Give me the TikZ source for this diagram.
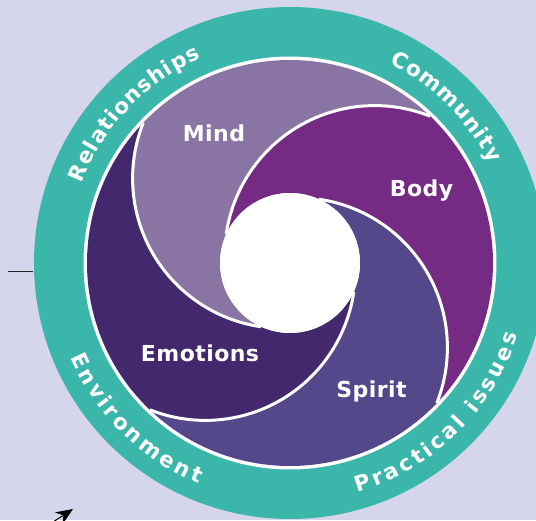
\documentclass[tikz,border=0pt]{standalone}
\usepackage{fontspec}
\usepackage{tikz}
\usetikzlibrary{decorations.text,arrows.meta}

\newfontfamily\labelfont[LetterSpace=2]{DejaVu Sans Bold}
\newfontfamily\ringfont{DejaVu Sans Bold}

\definecolor{bgcol}{HTML}{D5D5EC}
\definecolor{ringcol}{HTML}{3AB6AA}
\definecolor{mindcol}{HTML}{8A74A3}
\definecolor{bodycol}{HTML}{752A84}
\definecolor{spiritcol}{HTML}{54478A}
\definecolor{emocol}{HTML}{43286E}

\tikzset{
	petallabel/.style={text=white, anchor=base, inner sep=0pt, font=\labelfont\fontsize{22}{22}\selectfont},
	ringtext/.style={decorate, decoration={text along path, text color=white, text align=fit to path, text={|\ringfont\fontsize{21.5}{21.5}\selectfont|#1}}}
}

\begin{document}
\begin{tikzpicture}[x=1pt,y=1pt]
			% Draw background
			\fill[bgcol] (0,0) rectangle (536,520);
			\useasboundingbox (0,0) rectangle (536,520);
			\clip (0,0) rectangle (536,520);
			
			% Draw teal ring
			\fill[ringcol] (290,257) circle(256);
			\fill[white] (290,257) circle(206.5);
			
			% Draw petals (between the arm at \a and the arm at \a-90)
			\foreach \a/\col in {95/mindcol, 5/bodycol, -85/spiritcol, -175/emocol}{
				\pgfmathsetmacro\oa{\a-48.7}
				\pgfmathsetmacro\ob{\a+41.3}
				\pgfmathsetmacro\sa{\a+63.3}
				\pgfmathsetmacro\sb{\a+166.8}
				\pgfmathsetmacro\ia{\a+150.7}
				\pgfmathsetmacro\ib{\a+60.7}
				\pgfmathsetmacro\ta{\a+76.8}
				\pgfmathsetmacro\tb{\a-26.7}
				\fill[\col, shift={(290,257)}] (\oa:203) arc(\oa:\ob:203) arc(\sa:\sb:150)
				arc(\ia:\ib:70) arc(\ta:\tb:150) -- cycle;
			}
			
			% Draw white arms
			\foreach \a in {95, 5, -85, -175}{
				\pgfmathsetmacro\sa{\a+63.3}
				\pgfmathsetmacro\sb{\a+166.8}
				\draw[white, line width=3, shift={(290,257)}] ([shift={(\sa:150)}] \a:85) arc(\sa:\sb:150);
			}
			
			% Draw inner circle
			\fill[white] (290,257) circle(70);
			
			% Draw petal labels
			\node[petallabel] (mind) at (214,378) {Mind};
			\node[petallabel] (body) at (421.5,323) {Body};
			\node[petallabel] (spirit) at (371.5,122) {Spirit};
			\node[petallabel] (emotions) at (200,158) {Emotions};
			
			% Draw ring texts
			\path[ringtext=Relationships] ([shift={(159:223)}] 290,257) arc(159:113.5:223);
			\path[ringtext=Community] ([shift={(63.5:223)}] 290,257) arc(63.5:26.5:223);
			\path[ringtext=Environment] ([shift={(203.3:239)}] 290,257) arc(203.3:247.5:239);
			\path[ringtext=Practical issues] ([shift={(286.4:239)}] 290,257) arc(286.4:342.5:239);
			
			% Draw stray marks
			\draw[black!85, line width=0.8] (8,248.5) -- (33,248.5);
			\draw[-{Stealth[length=17pt,width=14pt]}, line width=1pt] (50,-4) -- (73,11);
\end{tikzpicture}
\end{document}
